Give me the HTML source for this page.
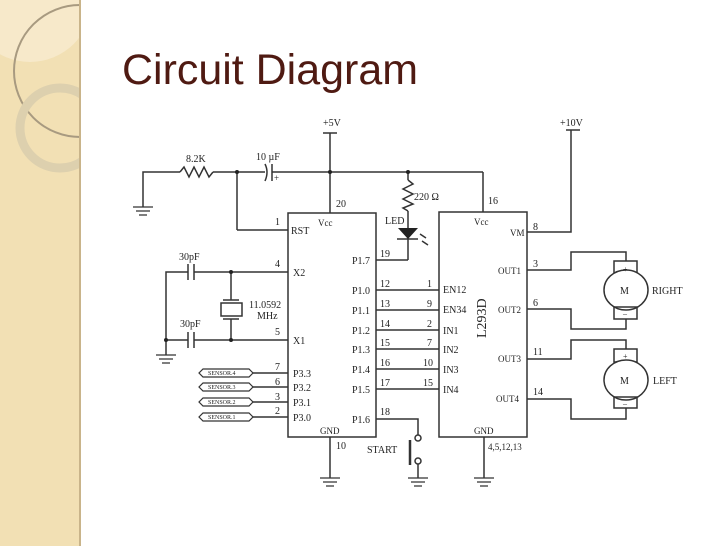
<!DOCTYPE html>
<html><head><meta charset="utf-8"><style>
body{margin:0;width:728px;height:546px;overflow:hidden;background:#fff}
svg{display:block}
.t{font-family:"Liberation Serif",serif;font-size:10px;fill:#222}
</style></head><body>
<svg width="728" height="546" viewBox="0 0 728 546" xmlns="http://www.w3.org/2000/svg">
<defs><clipPath id="sb"><rect x="0" y="0" width="80" height="546"/></clipPath></defs>
<rect x="0" y="0" width="80" height="546" fill="#f2e0b4"/>
<g clip-path="url(#sb)">
<circle cx="30" cy="0" r="62" fill="#f7ebcf" opacity="0.8"/>
<circle cx="80" cy="71" r="66" fill="none" stroke="#a89a80" stroke-width="2"/>
<circle cx="60" cy="128" r="40" fill="none" stroke="#ddd0ae" stroke-width="9"/>
</g>
<rect x="79" y="0" width="2" height="546" fill="#c9b48a"/>
<text x="122" y="84" font-family="Liberation Sans,sans-serif" font-size="43" fill="#4f1a12" textLength="296" lengthAdjust="spacingAndGlyphs">Circuit Diagram</text>

<g stroke="#333" stroke-width="1.5" fill="none">
<polyline points="143,207 143,172 180,172"/>
<polyline points="180,172 184,167 189,177 194,167 199,177 204,167 209,177 213,172"/>
<line x1="213" y1="172" x2="265" y2="172"/>
<path d="M265,164 Q269,172 265,181"/>
<line x1="272" y1="164" x2="272" y2="181"/>
<line x1="272" y1="172" x2="483" y2="172"/>
<line x1="483" y1="172" x2="483" y2="212"/>
<line x1="330" y1="133" x2="330" y2="213"/>
<line x1="323" y1="133" x2="337" y2="133"/>
<line x1="237" y1="172" x2="237" y2="230"/>
<line x1="237" y1="230" x2="288" y2="230"/>
<line x1="408" y1="172" x2="408" y2="180"/>
<polyline points="408,180 413,184 403,189 413,194 403,199 413,204 403,208 408,211"/>
<line x1="408" y1="211" x2="408" y2="260"/>
<line x1="376" y1="260" x2="408" y2="260"/>
<line x1="397" y1="239" x2="418" y2="239"/>
<path d="M420,234 l6,4 M422,241 l6,4"/>
<rect x="288" y="213" width="88" height="224"/>
<rect x="439" y="212" width="88" height="225"/>
<line x1="566" y1="130" x2="580" y2="130"/>
<polyline points="571,130 571,232 527,232"/>
<line x1="376" y1="290" x2="439" y2="290"/>
<line x1="376" y1="310" x2="439" y2="310"/>
<line x1="376" y1="330" x2="439" y2="330"/>
<line x1="376" y1="349" x2="439" y2="349"/>
<line x1="376" y1="369" x2="439" y2="369"/>
<line x1="376" y1="389" x2="439" y2="389"/>
<polyline points="166,355 166,272 188,272"/>
<line x1="188" y1="264" x2="188" y2="280"/><line x1="194" y1="264" x2="194" y2="280"/>
<line x1="194" y1="272" x2="288" y2="272"/>
<line x1="166" y1="340" x2="188" y2="340"/>
<line x1="188" y1="332" x2="188" y2="348"/><line x1="194" y1="332" x2="194" y2="348"/>
<line x1="194" y1="340" x2="288" y2="340"/>
<line x1="231" y1="272" x2="231" y2="300"/>
<line x1="223" y1="300" x2="239" y2="300"/>
<rect x="221" y="303" width="21" height="13"/>
<line x1="223" y1="319" x2="239" y2="319"/>
<line x1="231" y1="319" x2="231" y2="340"/>
<line x1="253" y1="373" x2="288" y2="373"/>
<line x1="253" y1="387" x2="288" y2="387"/>
<line x1="253" y1="402" x2="288" y2="402"/>
<line x1="253" y1="417" x2="288" y2="417"/>
<path d="M203,369 h46 l4,4 l-4,4 h-46 l-4,-4z M203,383 h46 l4,4 l-4,4 h-46 l-4,-4z M203,398 h46 l4,4 l-4,4 h-46 l-4,-4z M203,413 h46 l4,4 l-4,4 h-46 l-4,-4z" stroke-width="1.2"/>
<polyline points="376,419 418,419 418,435"/>
<circle cx="418" cy="438" r="3"/>
<circle cx="418" cy="461" r="3"/>
<line x1="418" y1="464" x2="418" y2="478"/>
<line x1="410" y1="440" x2="410" y2="465" stroke-width="2.5"/>
<line x1="330" y1="437" x2="330" y2="478"/>
<line x1="484" y1="437" x2="484" y2="478"/>
<polyline points="527,270 571,270 571,252 626,252 626,261"/>
<rect x="614" y="261" width="23" height="14"/>
<ellipse cx="626" cy="290" rx="22" ry="20" fill="#fff"/>
<rect x="614" y="307" width="23" height="12"/>
<polyline points="626,319 626,329 571,329 571,309 527,309"/>
<polyline points="527,359 571,359 571,340 626,340 626,349"/>
<rect x="614" y="349" width="23" height="13"/>
<ellipse cx="626" cy="380" rx="22" ry="20" fill="#fff"/>
<rect x="614" y="397" width="23" height="11"/>
<polyline points="626,408 626,419 571,419 571,399 527,399"/>
</g>
<polygon points="398,228 418,228 408,239" fill="#222"/>
<g fill="#222"><circle cx="237" cy="172" r="2"/><circle cx="330" cy="172" r="2"/><circle cx="408" cy="172" r="2"/><circle cx="231" cy="272" r="2"/><circle cx="231" cy="340" r="2"/><circle cx="166" cy="340" r="2"/></g>
<g stroke="#333" stroke-width="1.3">
<path d="M133,207h20M136,211h14M139,215h8"/>
<path d="M156,355h20M159,359h14M162,363h8"/>
<path d="M320,478h20M323,482h14M326,486h8"/>
<path d="M408,478h20M411,482h14M414,486h8"/>
<path d="M474,478h20M477,482h14M480,486h8"/>
</g>
<g class="t">
<text x="323" y="126">+5V</text><text x="560" y="126">+10V</text>
<text x="186" y="162">8.2K</text><text x="256" y="160">10 µF</text><text x="274" y="181" font-size="9">+</text>
<text x="414" y="200">220 Ω</text><text x="385" y="224">LED</text>
<text x="336" y="207">20</text><text x="488" y="204">16</text>
<text x="318" y="226" font-size="9">Vcc</text><text x="474" y="225" font-size="9">Vcc</text>
<text x="275" y="225">1</text><text x="291" y="234">RST</text>
<text x="275" y="267">4</text><text x="293" y="276">X2</text>
<text x="275" y="335">5</text><text x="293" y="344">X1</text>
<text x="179" y="260">30pF</text><text x="180" y="327">30pF</text>
<text x="249" y="308">11.0592</text><text x="257" y="319">MHz</text>
<text x="352" y="264">P1.7</text><text x="380" y="257">19</text>
<text x="352" y="294">P1.0</text><text x="352" y="314">P1.1</text><text x="352" y="334">P1.2</text><text x="352" y="353">P1.3</text><text x="352" y="373">P1.4</text><text x="352" y="393">P1.5</text><text x="352" y="423">P1.6</text>
<text x="380" y="287">12</text><text x="380" y="307">13</text><text x="380" y="327">14</text><text x="380" y="346">15</text><text x="380" y="366">16</text><text x="380" y="386">17</text><text x="380" y="415">18</text>
<text x="427" y="287">1</text><text x="427" y="307">9</text><text x="427" y="327">2</text><text x="427" y="346">7</text><text x="423" y="366">10</text><text x="423" y="386">15</text>
<text x="443" y="293">EN12</text><text x="443" y="313">EN34</text><text x="443" y="334">IN1</text><text x="443" y="353">IN2</text><text x="443" y="373">IN3</text><text x="443" y="393">IN4</text>
<text x="275" y="370">7</text><text x="275" y="385">6</text><text x="275" y="400">3</text><text x="275" y="414">2</text>
<text x="293" y="377">P3.3</text><text x="293" y="391">P3.2</text><text x="293" y="406">P3.1</text><text x="293" y="421">P3.0</text>
<g font-size="6"><text x="208" y="375">SENSOR.4</text><text x="208" y="389">SENSOR.3</text><text x="208" y="404">SENSOR.2</text><text x="208" y="419">SENSOR.1</text></g>
<text x="320" y="434" font-size="9">GND</text><text x="474" y="434" font-size="9">GND</text>
<text x="336" y="449">10</text><text x="488" y="450" font-size="9">4,5,12,13</text>
<text x="367" y="453">START</text>
<text x="510" y="236" font-size="9">VM</text><text x="533" y="230">8</text>
<text x="498" y="274" font-size="9">OUT1</text><text x="533" y="267">3</text>
<text x="498" y="313" font-size="9">OUT2</text><text x="533" y="306">6</text>
<text x="498" y="362" font-size="9">OUT3</text><text x="533" y="355">11</text>
<text x="496" y="402" font-size="9">OUT4</text><text x="533" y="395">14</text>
<text x="620" y="294">M</text><text x="620" y="384">M</text>
<text x="623" y="272" font-size="8">+</text><text x="623" y="316" font-size="8">–</text>
<text x="623" y="359" font-size="8">+</text><text x="623" y="406" font-size="8">–</text>
<text x="652" y="294">RIGHT</text><text x="653" y="384">LEFT</text>
<text transform="translate(486,338) rotate(-90)" font-size="14">L293D</text>
</g>
</svg>
</body></html>
